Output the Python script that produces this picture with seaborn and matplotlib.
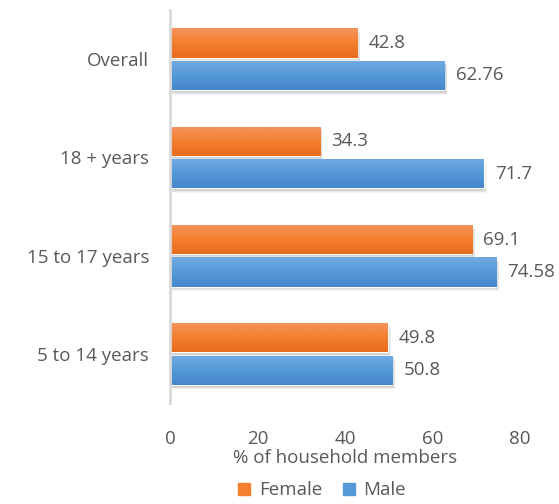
import numpy as np
import pandas as pd
import matplotlib
matplotlib.use("Agg")
import matplotlib.pyplot as plt
import matplotlib.transforms as mtransforms
from matplotlib.colors import LinearSegmentedColormap
from matplotlib.patches import Rectangle
from matplotlib.lines import Line2D
import seaborn as sns

categories = ["Overall", "18 + years", "15 to 17 years", "5 to 14 years"]
female = [42.8, 34.3, 69.1, 49.8]
male = [62.76, 71.7, 74.58, 50.8]
female_labels = ["42.8", "34.3", "69.1", "49.8"]
male_labels = ["62.76", "71.7", "74.58", "50.8"]

df = pd.DataFrame({
    "group": categories * 2,
    "sex": ["Female"] * len(categories) + ["Male"] * len(categories),
    "value": female + male,
})

sns.set_theme(style="white")
plt.rcParams["font.family"] = ["Open Sans", "DejaVu Sans"]
text_color = "#595959"

palette = {"Female": "#F47F2F", "Male": "#5599D8"}
gradients = {
    "Female": ["#F4935E", "#F47F2F", "#E86C1C"],
    "Male": ["#72AAE0", "#5599D8", "#4686CA"],
}

fig = plt.figure(figsize=(5.59, 5.04), dpi=100)
ax = fig.add_axes([0.304, 0.20, 0.626, 0.78])

sns.barplot(data=df, y="group", x="value", hue="sex", order=categories,
            hue_order=["Female", "Male"], palette=palette, orient="h",
            width=0.66, gap=0.1, ax=ax, legend=True)

# excel-like gradient fill and soft shadow
for container, sex in zip(ax.containers, ["Female", "Male"]):
    cmap = LinearSegmentedColormap.from_list(sex, gradients[sex])
    for patch in container:
        x0, y0 = patch.get_x(), patch.get_y()
        w, h = patch.get_width(), patch.get_height()
        for k, a in [(5, 0.07), (4, 0.1), (3, 0.13), (2, 0.16)]:
            off = mtransforms.offset_copy(ax.transData, fig=fig, x=k * 0.6, y=-k * 0.9, units="dots")
            sh = Rectangle((x0, y0), w, h, color="#6f6f6f", alpha=a, lw=0,
                           transform=off, zorder=1)
            ax.add_patch(sh)
        patch.set_zorder(2)
        grad = np.linspace(0, 1, 50).reshape(-1, 1)
        im = ax.imshow(grad, cmap=cmap, aspect="auto", extent=(x0, x0 + w, y0 + h, y0),
                       zorder=3, interpolation="bicubic")
        im.set_clip_path(patch)

for container, labels in zip(ax.containers, [female_labels, male_labels]):
    ax.bar_label(container, labels=labels, padding=8, fontsize=13.5, color=text_color)

ax.set_xlim(0, 80)
ax.set_ylim(3.5, -0.5)
ax.set_xticks([0, 20, 40, 60, 80])
ax.set_xlabel("% of household members", fontsize=13.5, color=text_color, labelpad=1)
ax.set_ylabel("")
ax.tick_params(axis="both", length=0, labelsize=13.5, labelcolor=text_color)
ax.tick_params(axis="y", pad=15)
ax.tick_params(axis="x", pad=19)

for s in ["top", "right", "bottom"]:
    ax.spines[s].set_visible(False)
ax.spines["left"].set_color("#D9D9D9")
ax.spines["left"].set_linewidth(2)
ax.spines["left"].set_zorder(5)

handles, labels = ax.get_legend_handles_labels()
ax.legend_.remove()
handles = [Line2D([], [], marker="s", ls="", markersize=9, color=palette[l]) for l in labels]
fig.legend(handles, labels, loc="center", bbox_to_anchor=(0.575, 0.027), ncol=2, frameon=False,
           fontsize=13.5, labelcolor=text_color, handlelength=0.8, handletextpad=0.4,
           columnspacing=1.0)

fig.savefig("out.png", dpi=100)
